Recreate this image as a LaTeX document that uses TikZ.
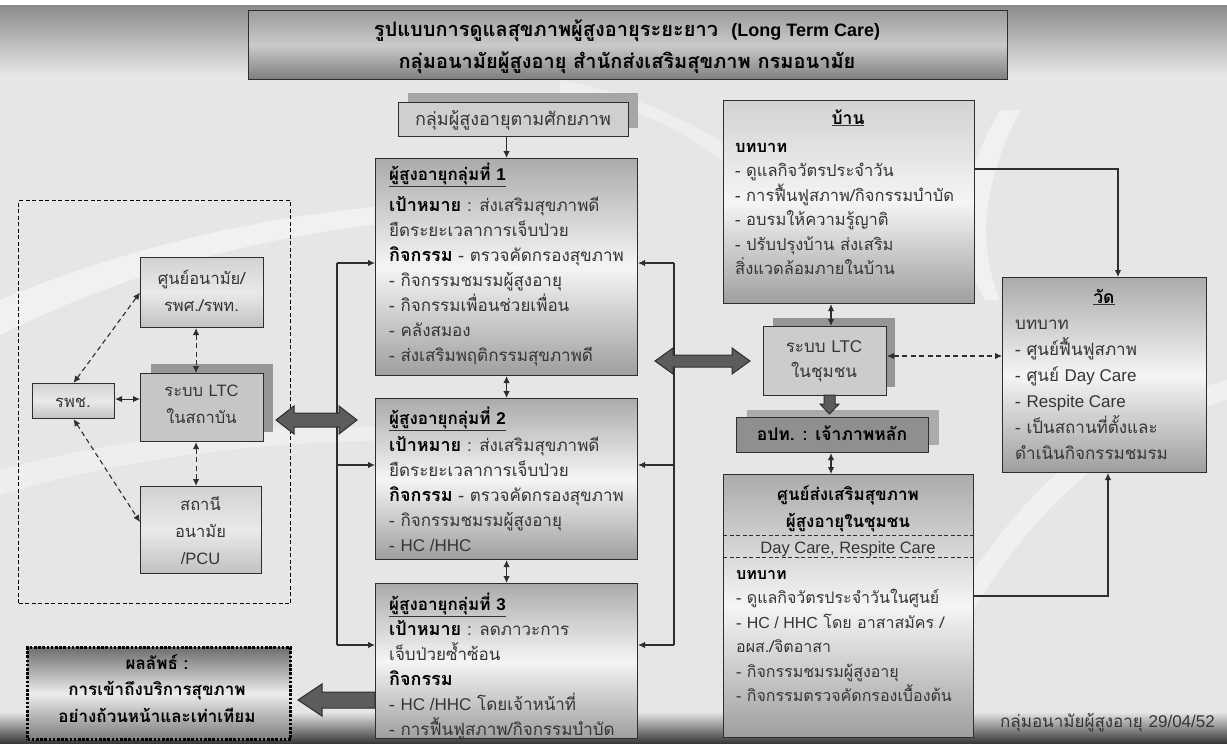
\documentclass[tikz,border=0pt]{standalone}
\usepackage{fontspec}
\setmainfont[Script=Thai]{Loma}
\newfontfamily\lat{Liberation Sans}
\usetikzlibrary{arrows.meta}
\definecolor{bgc}{HTML}{E6E6E6}
\definecolor{linec}{HTML}{2E2E2E}
\definecolor{gtop}{HTML}{ABABAB}
\definecolor{gmid}{HTML}{F5F5F5}
\definecolor{gbot}{HTML}{9E9E9E}
\definecolor{ltop}{HTML}{D2D2D2}
\definecolor{ltcfill}{HTML}{C6C6C6}
\definecolor{shadowc}{HTML}{969696}
\definecolor{optfill}{HTML}{8F8F8F}
\definecolor{optshadow}{HTML}{ABABAB}
\definecolor{arrfill}{HTML}{5C5C5C}
\definecolor{txtc}{HTML}{353535}
\definecolor{titletop}{HTML}{9C9C9C}
\definecolor{titlemid}{HTML}{CACACA}
\definecolor{titlebot}{HTML}{7E7E7E}
\definecolor{outtop}{HTML}{6E6E6E}
\definecolor{outmid}{HTML}{ECECEC}
\newcommand\fs{\rule{0pt}{22pt}}
\newcommand\hb[1]{{\color{black}\bfseries\fontsize{18}{25}\selectfont #1}}
\newcommand\bd[1]{{\color{black}\bfseries #1}}
\newcommand\uln[1]{\underline{\color{black}\bfseries #1}}
\newcommand\la[1]{{\lat #1}}
\tikzset{
  box/.style={draw=linec, line width=1.1pt, inner sep=0pt, anchor=north west},
  gbox/.style={box, top color=gtop, bottom color=gbot, middle color=gmid},
  hbox/.style={box, top color=ltop, bottom color=gbot, middle color=gmid},
  sbox/.style={box, top color=ltop, bottom color=ltop!80!gray, middle color=gmid!90!gray},
  tx/.style={anchor=north west, inner sep=0pt, align=left, text=txtc, font=\fontsize{17}{25}\selectfont},
  ctx/.style={anchor=north, inner sep=0pt, align=center, text=txtc, font=\fontsize{16.5}{27}\selectfont},
  ln/.style={draw=linec, line width=1.1pt},
  arr/.style={ln, -{Latex[length=7pt,width=6.5pt]}},
  darr/.style={ln, {Latex[length=7pt,width=6.5pt]}-{Latex[length=7pt,width=6.5pt]}},
  ddarr/.style={darr, dash pattern=on 5pt off 3.5pt},
  blockarrow/.style={fill=arrfill, draw=linec, line width=1pt, line join=miter}
}
\begin{document}
\begin{tikzpicture}[x=1pt,y=-1pt]
\useasboundingbox (0,0) rectangle (1227,744);
% background
\fill[bgc] (0,0) rectangle (1227,744);
\fill[white] (0,0) rectangle (1227,5);
\shade[top color=titlebot!90, bottom color=bgc] (0,5) rectangle (1227,75);
\shade[top color=bgc, bottom color=black!80] (0,712) rectangle (1227,744);
\fill[white, opacity=0.45] (0,300) .. controls (120,250) and (260,215) .. (400,205) -- (400,222) .. controls (260,235) and (120,275) .. (0,335) -- cycle;
\fill[white, opacity=0.35] (0,470) .. controls (150,430) and (300,420) .. (420,430) -- (420,440) .. controls (300,440) and (150,450) .. (0,495) -- cycle;
\fill[white, opacity=0.45] (1000,110) .. controls (960,180) and (950,240) .. (985,300) -- (1000,300) .. controls (975,240) and (985,180) .. (1020,110) -- cycle;
\fill[white, opacity=0.4] (930,640) .. controls (1000,520) and (1080,420) .. (1227,380) -- (1227,400) .. controls (1090,440) and (1010,540) .. (950,650) -- cycle;
\fill[white, opacity=0.35] (560,80) .. controls (620,90) and (700,120) .. (760,170) -- (740,175) .. controls (690,130) and (620,100) .. (560,95) -- cycle;

% title
\node[box, minimum width=759pt, minimum height=69pt, top color=titletop, bottom color=titlebot, middle color=titlemid] (title) at (248,10) {};
\node[anchor=north, inner sep=0pt, align=center, font=\bfseries\fontsize{20}{32}\selectfont] (titlet) at (627,12) {\rule{0pt}{24pt}รูปแบบการดูแลสุขภาพผู้สูงอายุระยะยาว~ {\lat\fontsize{18}{32}\selectfont (Long Term Care)}\\กลุ่มอนามัยผู้สูงอายุ สำนักส่งเสริมสุขภาพ กรมอนามัย};

% potential group box
\fill[shadowc!85!white] (408,93) rectangle (638,128);
\node[box, minimum width=230pt, minimum height=34pt, fill=ltcfill!85!white] (t0) at (398,102) {};
\node[ctx, font=\fontsize{18}{27}\selectfont] (t0t) at (513,103) {\fs กลุ่มผู้สูงอายุตามศักยภาพ};

% groups
\node[gbox, minimum width=262pt, minimum height=217pt] (g1) at (375,158) {};
\node[gbox, minimum width=262pt, minimum height=161pt] (g2) at (375,398) {};
\node[gbox, minimum width=262pt, minimum height=155pt] (g3) at (375,583) {};
\node[tx] (g1t) at (389,158) {\fs\uln{ผู้สูงอายุกลุ่มที่ \la{1}}\\[6pt]
\hb{เป้าหมาย} : ส่งเสริมสุขภาพดี\\
ยืดระยะเวลาการเจ็บป่วย\\
\hb{กิจกรรม} - ตรวจคัดกรองสุขภาพ\\
- กิจกรรมชมรมผู้สูงอายุ\\
- กิจกรรมเพื่อนช่วยเพื่อน\\
- คลังสมอง\\
- ส่งเสริมพฤติกรรมสุขภาพดี};
\node[tx] (g2t) at (389,402) {\fs\uln{ผู้สูงอายุกลุ่มที่ \la{2}}\\[2pt]
\hb{เป้าหมาย} : ส่งเสริมสุขภาพดี\\
ยืดระยะเวลาการเจ็บป่วย\\
\hb{กิจกรรม} - ตรวจคัดกรองสุขภาพ\\
- กิจกรรมชมรมผู้สูงอายุ\\
- \la{HC /HHC}};
\node[tx] (g3t) at (389,588) {\fs\uln{ผู้สูงอายุกลุ่มที่ \la{3}}\\
\hb{เป้าหมาย} : ลดภาวะการ\\
เจ็บป่วยซ้ำซ้อน\\
\hb{กิจกรรม}\\
- \la{HC /HHC} โดยเจ้าหน้าที่\\
- การฟื้นฟูสภาพ/กิจกรรมบำบัด};

% left cluster
\node[box, draw=black, line width=1.2pt, dash pattern=on 4pt off 2.5pt, minimum width=272pt, minimum height=403pt] (inst) at (18,200) {};
\node[sbox, minimum width=123pt, minimum height=70pt] (sa) at (140,257) {};
\node[ctx] (sat) at (201.5,262) {\fs ศูนย์อนามัย/\\รพศ./รพท.};
\fill[shadowc] (151,364) rectangle (273,432);
\node[box, minimum width=123pt, minimum height=68pt, fill=ltcfill] (ltc1) at (140,373) {};
\node[ctx] (ltc1t) at (201.5,374) {\fs ระบบ \la{LTC}\\ในสถาบัน};
\node[sbox, minimum width=121pt, minimum height=87pt] (pcu) at (140,486) {};
\node[ctx] (pcut) at (200.5,488) {\fs สถานี\\อนามัย\\\la{/PCU}};
\node[sbox, minimum width=82pt, minimum height=35pt] (rpc) at (32,383) {};
\node[ctx] (rpct) at (73,385) {\fs รพช.};

\draw[ddarr] ([xshift=-6pt]sa.south) -- ([xshift=-6pt]ltc1.north);
\draw[ddarr] ([xshift=-6pt]ltc1.south) -- ([xshift=-6pt]ltc1.south |- pcu.north);
\draw[darr] ([yshift=2pt]rpc.east) -- ([yshift=2pt]rpc.east -| ltc1.west);
\draw[ddarr] (rpc.north) -- (sa.west);
\draw[ddarr] (rpc.south) -- ([yshift=8pt]pcu.west);

% buses
\coordinate (lb1) at (337,263);
\coordinate (lb2) at (337,465);
\coordinate (lb3) at (337,645);
\coordinate (rb1) at (674,263);
\coordinate (rb2) at (674,465);
\coordinate (rb3) at (674,645);
\draw[ln] (lb1) -- (lb3);
\draw[ln] (rb1) -- (rb3);
\draw[arr] (lb1) -- (lb1 -| g1.west);
\draw[arr] (lb2) -- (lb2 -| g2.west);
\draw[arr] (lb3) -- (lb3 -| g3.west);
\draw[arr] (rb1) -- (rb1 -| g1.east);
\draw[arr] (rb2) -- (rb2 -| g2.east);
\draw[arr] (rb3) -- (rb3 -| g3.east);
\draw[arr] (t0.south -| g1.north) -- (g1.north);
\draw[darr] (g1.south) -- (g2.north);
\draw[darr] (g2.south) -- (g3.north);

% big block arrows
\draw[blockarrow] (276,420) -- (294,406) -- (294,413) -- (339,413) -- (339,406) -- (357,420) -- (339,434) -- (339,427) -- (294,427) -- (294,434) -- cycle;
\draw[blockarrow] (655,361) -- (673,348) -- (673,355) -- (732,355) -- (732,348) -- (750,361) -- (732,374) -- (732,367) -- (673,367) -- (673,374) -- cycle;
\draw[blockarrow] (298,700) -- (322,684) -- (322,692) -- (375,692) -- (375,708) -- (322,708) -- (322,716) -- cycle;

% outcome
\node[box, draw=black, line width=3pt, dash pattern=on 2.6pt off 1.6pt, minimum width=263pt, minimum height=92pt, top color=outtop, bottom color=outtop!90!white, middle color=outmid] (out) at (26,646) {};
\node[ctx, font=\bfseries\fontsize{17}{26.5}\selectfont, text=black] (outt) at (157,647) {\fs ผลลัพธ์ :\\การเข้าถึงบริการสุขภาพ\\อย่างถ้วนหน้าและเท่าเทียม};

% right side
\node[hbox, minimum width=251pt, minimum height=203pt] (ban) at (723,100) {};
\node[ctx, font=\fontsize{17.5}{25}\selectfont] (bant) at (848,102) {\fs\uln{บ้าน}};
\node[tx, font=\fontsize{16.5}{24.5}\selectfont] (banb) at (735,130) {\fs\bd{บทบาท}\\
- ดูแลกิจวัตรประจำวัน\\
- การฟื้นฟูสภาพ/กิจกรรมบำบัด\\
- อบรมให้ความรู้ญาติ\\
- ปรับปรุงบ้าน ส่งเสริม\\
สิ่งแวดล้อมภายในบ้าน};

\fill[shadowc] (773,318) rectangle (895,387);
\node[box, minimum width=123pt, minimum height=69pt, fill=ltcfill!90!white] (ltc2) at (763,326) {};
\node[ctx, font=\fontsize{17}{25}\selectfont] (ltc2t) at (824,330) {\fs ระบบ \la{LTC}\\ในชุมชน};

\fill[optshadow] (747,410) rectangle (939,445);
\node[box, minimum width=192pt, minimum height=35pt, fill=optfill] (opt) at (736,417) {};
\node[ctx, font=\bfseries\fontsize{17.5}{25}\selectfont, text=black] (optt) at (832,418) {\fs อปท. : เจ้าภาพหลัก};

\draw[blockarrow] (824,395) -- (835,395) -- (835,404) -- (839,404) -- (829.5,414) -- (820,404) -- (824,404) -- cycle;

\node[gbox, minimum width=250pt, minimum height=263pt] (cen) at (723,474) {};
\node[ctx, font=\bfseries\fontsize{17}{27}\selectfont, text=black] (cent) at (848,478) {\fs ศูนย์ส่งเสริมสุขภาพ\\ผู้สูงอายุในชุมชน};
\coordinate (cd1) at (723,535);
\coordinate (cd2) at (723,557);
\draw[linec, line width=1pt, dash pattern=on 4pt off 2.5pt] (cd1) -- (cd1 -| cen.east);
\draw[linec, line width=1pt, dash pattern=on 4pt off 2.5pt] (cd2) -- (cd2 -| cen.east);
\node[ctx, font=\lat\fontsize{16.5}{25}\selectfont] (cenm) at (848,531) {\fs Day Care, Respite Care};
\node[tx, font=\fontsize{16}{24.5}\selectfont] (cenb) at (736,557) {\fs\bd{บทบาท}\\
- ดูแลกิจวัตรประจำวันในศูนย์\\
- \la{HC / HHC} โดย อาสาสมัคร /\\
อผส./จิตอาสา\\
- กิจกรรมชมรมผู้สูงอายุ\\
- กิจกรรมตรวจคัดกรองเบื้องต้น};

\node[gbox, minimum width=204pt, minimum height=195pt] (wat) at (1002,277) {};
\node[ctx, font=\fontsize{17.5}{25}\selectfont] (watt) at (1104,281) {\fs\uln{วัด}};
\node[tx, font=\fontsize{17}{26}\selectfont] (watb) at (1015,307) {\fs บทบาท\\
- ศูนย์ฟื้นฟูสภาพ\\
- ศูนย์ \la{Day Care}\\
- \la{Respite Care}\\
- เป็นสถานที่ตั้งและ\\
ดำเนินกิจกรรมชมรม};

% right connectors
\coordinate (vx) at (831,300);
\draw[darr] (vx |- ban.south) -- (vx |- ltc2.north);
\draw[darr] (vx |- opt.south) -- (vx |- cen.north);
\coordinate (lw) at (886,356);
\draw[ddarr] (ltc2.east |- lw) -- (wat.west |- lw);
\coordinate (bw) at (1118,169);
\draw[arr] (ban.east |- bw) -- (bw) -- (bw |- wat.north);
\coordinate (cw) at (1108,596);
\draw[arr] (cen.east |- cw) -- (cw) -- (cw |- wat.south);

% footer
\node[anchor=base east, inner sep=0pt, text=txtc, font=\fontsize{17}{20}\selectfont] (foot) at (1215,727) {กลุ่มอนามัยผู้สูงอายุ \la{29/04/52}};
\end{tikzpicture}
\end{document}
